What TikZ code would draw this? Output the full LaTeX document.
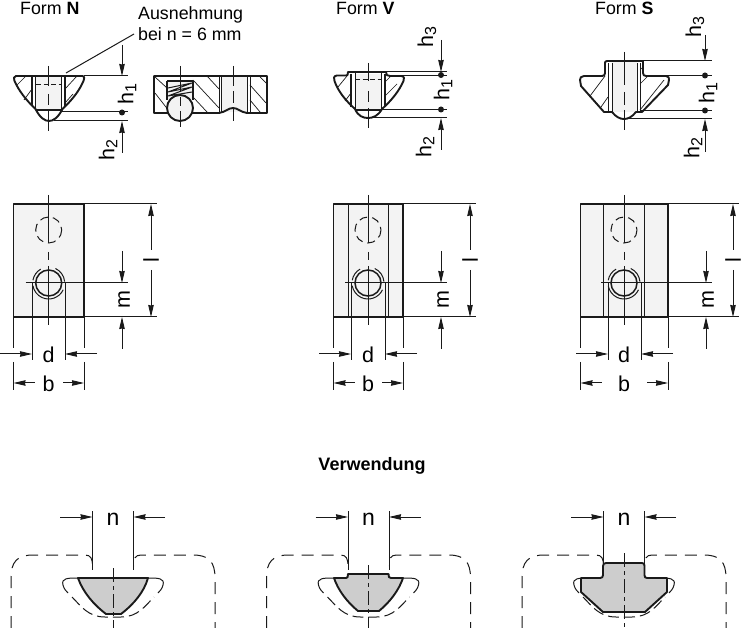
\documentclass[tikz,border=0pt]{standalone}
\usepackage{fontspec}
\setmainfont{Liberation Sans}
\usetikzlibrary{arrows.meta}
\definecolor{lightfill}{HTML}{F3F3F3}
\definecolor{cutgray}{HTML}{CDCDCD}
\definecolor{ink}{HTML}{1A1A1A}
\tikzset{
  thick line/.style={draw=ink,line width=1.9pt,line join=round},
  thin line/.style={draw=ink,line width=1pt},
  mid line/.style={draw=ink,line width=1.3pt},
  hatch/.style={draw=ink,line width=0.7pt},
  hidden/.style={draw=ink,line width=1pt,dash pattern=on 5pt off 2.5pt},
  rail/.style={draw=ink,line width=1pt,dash pattern=on 12pt off 8pt},
  dim/.style={draw=ink,line width=1pt,-{Stealth[length=12pt,width=5.5pt,inset=0.5pt]}},
  txt/.style={inner sep=0pt,font=\fontsize{17.8}{20}\selectfont},
  boldtxt/.style={inner sep=0pt,font=\fontsize{18}{20}\selectfont\bfseries},
  dimtxt/.style={inner sep=0pt,font=\fontsize{21.5}{22}\selectfont},
  ntxt/.style={inner sep=0pt,font=\fontsize{23}{24}\selectfont},
  htxt/.style={inner sep=0pt,rotate=90,font=\fontsize{21.5}{22}\selectfont},
  pt dot/.style={circle,fill=ink,inner sep=0pt,minimum size=6pt}
}
\newcommand{\hsub}[1]{h\raisebox{-3pt}{\fontsize{16}{16}\selectfont #1}}
% #1 cx #2 left #3 right #4 d-left #5 d-right #6 m-x
\newcommand{\topview}[6]{%
  \fill[lightfill] (#2,204) rectangle (#3,317);
  \draw[thin line] (#1,195) -- (#1,243) (#1,252) -- (#1,260) (#1,266) -- (#1,325);
  \draw[draw=ink,line width=1pt,dash pattern=on 8pt off 5pt] (#1,230) circle (13);
  \draw[draw=ink,line width=1.5pt] (#1,283) circle (13);
  \draw[thin line] (#1,283) ++(25:16) arc[start angle=25,end angle=170,radius=16];
  \draw[thin line] (#1,283) ++(190:16) arc[start angle=190,end angle=240,radius=16];
  \draw[thin line] (#1,283) ++(-65:16) arc[start angle=-65,end angle=-5,radius=16];
  \draw[thin line] (#1-23,283) -- (#6+6,283);
  \draw[thin line] (#4,283) -- (#4,360) (#5,283) -- (#5,360);
  \draw[thin line] (#2,317) -- (#2,348) (#2,362) -- (#2,390);
  \draw[thin line] (#3,317) -- (#3,348) (#3,362) -- (#3,390);
  \draw[thin line] (#6+6,317) -- (#3,317);
  \draw[thick line] (#2,204) rectangle (#3,317);
  \draw[dim] (#4-32,354) -- (#4,354);
  \draw[dim] (#5+32,354) -- (#5,354);
  \node[dimtxt] at (#1,355) {d};
  \draw[dim] (#2+21,383) -- (#2,383);
  \draw[dim] (#3-21,383) -- (#3,383);
  \node[dimtxt] at (#1,384) {b};
  \draw[dim] (#6,251) -- (#6,283);
  \draw[dim] (#6,349) -- (#6,317);
  \node[htxt] at (#6+2,300) {m};
}
% #1 right edge of body #2 x of dim
\newcommand{\ldim}[2]{%
  \draw[thin line] (#1,204) -- (#2+6,204) (#1,317) -- (#2+6,317);
  \draw[dim] (#2,250) -- (#2,204);
  \draw[dim] (#2,270) -- (#2,317);
  \node[htxt] at (#2,260) {l};
}
\newcommand{\rails}[1]{%
  \begin{scope}[xshift=#1 pt]
  \draw[rail] (-102,628) -- (-102,578) .. controls (-102,562) and (-96,555) .. (-80,555) -- (-28,555) .. controls (-22,555) and (-20.5,559) .. (-20.5,566);
  \draw[rail,dash phase=6pt] (102,628) -- (102,578) .. controls (102,562) and (96,555) .. (80,555) -- (28,555) .. controls (22,555) and (20.5,559) .. (20.5,566);
  \draw[thin line] (-20.5,511) -- (-20.5,570) (20.5,511) -- (20.5,570);
  \draw[thin line] (-35,578) .. controls (-45,578) and (-52,578) .. (-50,585) .. controls (-49,589) and (-47,591) .. (-45,593);
  \draw[thin line] (35,578) .. controls (45,578) and (52,578) .. (50,585) .. controls (49,589) and (47,591) .. (45,593);
  \draw[rail,dash pattern=on 11pt off 5pt] (-41,597) .. controls (-32,606) and (-25,617) .. (-8,617) -- (8,617) .. controls (25,617) and (32,606) .. (41,597);
  \draw[dim] (-53,517) -- (-20.5,517);
  \draw[dim] (52,517) -- (20.5,517);
  \node[ntxt] at (0,519) {n};
  \end{scope}
}
\begin{document}
\begin{tikzpicture}[x=1pt,y=-1pt]
\useasboundingbox (0,0) rectangle (750,628);
\fill[white] (0,0) rectangle (750,628);

% --- titles
\node[txt,anchor=base west] (formN) at (20,15) {Form \textbf{N}};
\node[txt,anchor=base west] (formV) at (336,15) {Form \textbf{V}};
\node[txt,anchor=base west] (formS) at (595,15) {Form \textbf{S}};
\node[txt,anchor=base west] (ausn) at (138,20) {Ausnehmung};
\node[txt,anchor=base west] (bei) at (138,41) {bei n = 6 mm};
\node[boldtxt] (verw) at (372,466) {Verwendung};

% --- Form N section
\fill[lightfill] (35.7,76) rectangle (61,110);
\draw[hatch] (17,85) -- (26,76) (24,100) -- (32,89) (65,89) -- (77,76) (65,103) -- (73,94);
\draw[mid line] (32,76) -- (32,106) (65,76) -- (65,106);
\draw[thin line] (35.7,76) -- (35.7,110) (61,76) -- (61,110);
\draw[hidden] (36,85) -- (61,85);
\draw[thick line] (16,76) -- (82,76) .. controls (85,76) and (84.5,79) .. (83.5,81) .. controls (79,91) and (73,99) .. (62.5,109)
  .. controls (58,118) and (53,121) .. (49,121) .. controls (45,121) and (40,118) .. (35.5,109)
  .. controls (26,100) and (19,91) .. (14.5,81) .. controls (13.5,79) and (13.5,76) .. (16,76) -- cycle;
\draw[mid line] (36,110) -- (62,110);
\draw[thin line] (48.7,66) -- (48.7,86) (48.7,94) -- (48.7,105) (48.7,110) -- (48.7,131);
\draw[thin line] (66,73) -- (134,34);
\draw[thin line] (84,76) -- (128,76);
\draw[thin line] (60,112) -- (128,112);
\draw[thin line] (54,121) -- (128,121);
\draw[dim] (122,45) -- (122,76);
\draw[dim] (122,153) -- (122,121);
\node[pt dot] (nd) at (122,112.5) {};
\node[htxt] at (127,94) {\hsub{1}};
\node[htxt] at (108,150) {\hsub{2}};

% --- Form N side view
\fill[lightfill] (221,76) rectangle (247,112);
\fill[lightfill] (167,81) rectangle (193,100);
\draw[hatch] (155,77) -- (167,88) (155,93) -- (169,111) (193,80) -- (219,108) (207,76) -- (219,89) (193,97) -- (207,112)
  (250,85) -- (266,103) (250,100) -- (260,112) (260,77) -- (267,84);
\draw[mid line] (167,81) -- (193,81) (167,81) -- (167,100) (193,81) -- (193,100);
\draw[thin line] (168,88) -- (192,83) -- (168,92) -- (192,87) -- (168,96) -- (192,92);
\draw[thin line] (219,76) -- (219,113) (221,76) -- (221,113) (247,76) -- (247,113) (250,76) -- (250,113);
\draw[thick line] (154,76) -- (267,76) -- (267,113) -- (247,113) .. controls (240,112) and (238,108) .. (233,108) .. controls (228,108) and (226,112) .. (219,113) -- (154,113) -- cycle;
\draw[draw=ink,line width=1.9pt,fill=lightfill] (180,108) circle (13);
\draw[thin line] (180,66) -- (180,91) (180,97) -- (180,106) (180,111) -- (180,127);
\draw[thin line] (233.3,66) -- (233.3,86) (233.3,91) -- (233.3,103) (233.3,107) -- (233.3,121);

% --- Form V section
\fill[lightfill] (355,74) rectangle (381,110);
\draw[hatch] (338,87) -- (347,76) (345,101) -- (351,93) (385,82) -- (391,76) (385,96) -- (397,84);
\draw[mid line] (351,74) -- (351,107) (385,74) -- (385,107);
\draw[thin line] (355,72) -- (355,110) (381,72) -- (381,110);
\draw[hidden] (355,80) -- (381,80);
\draw[thick line] (337,75.5) -- (346,75.5) .. controls (347.5,75.5) and (348,75) .. (348,72) -- (386,72) .. controls (386,75) and (387,76) .. (390,76) -- (401,76) .. controls (404.5,76) and (404.5,79) .. (403.5,81) .. controls (399,91) and (392,100) .. (382,109)
  .. controls (378,116) and (373,118) .. (368,118) .. controls (363,118) and (358,116) .. (355,109)
  .. controls (345,100) and (338,91) .. (334.5,81) .. controls (333.5,79) and (333.5,75.5) .. (337,75.5) -- cycle;
\draw[mid line] (355,110) -- (382,110);
\draw[thin line] (368.3,63) -- (368.3,81) (368.3,91) -- (368.3,102) (368.3,108) -- (368.3,128);
\draw[thin line] (386,72) -- (447,72);
\draw[thin line] (390,76) -- (447,76);
\draw[thin line] (381,110) -- (447,110);
\draw[thin line] (372,118) -- (447,118);
\draw[dim] (441,40) -- (441,72);
\draw[dim] (441,150) -- (441,118);
\node[pt dot] (vd1) at (441,75) {};
\node[pt dot] (vd2) at (441,109.5) {};
\node[htxt] at (427,37) {\hsub{3}};
\node[htxt] at (443,90) {\hsub{1}};
\node[htxt] at (425,147) {\hsub{2}};

% --- Form S section
\fill[lightfill] (612,61) rectangle (637,112);
\draw[hatch] (590,96) -- (605,76) (601,107) -- (608,97) (640,70) -- (643,67) (640,84) -- (648,76) (640,110) -- (664,80);
\draw[thin line] (608,63) -- (608,112) (612,63) -- (612,112) (637,63) -- (637,112) (640,63) -- (640,112);
\draw[thick line] (584,76) -- (602,76) .. controls (604,76) and (605,75) .. (605,73) -- (605,63) .. controls (605,62) and (605.5,61) .. (607,61) -- (643,61) -- (643,73) .. controls (643,75) and (644,76) .. (646,76) -- (666,76) .. controls (669,76) and (669,78) .. (669,80) -- (668,85) -- (642,112) -- (636,112)
  .. controls (632,117) and (628,119) .. (624,119) .. controls (620,119) and (616,117) .. (612,112)
  -- (604,112) -- (581,86) -- (580,80) .. controls (580,78) and (581,76) .. (584,76) -- cycle;
\draw[thin line] (624,52) -- (624,85) (624,92) -- (624,105) (624,110) -- (624,130);
\draw[thin line] (643,61) -- (712,61);
\draw[thin line] (646,76) -- (712,76);
\draw[thin line] (640,111) -- (712,111);
\draw[thin line] (628,119) -- (712,119);
\draw[dim] (705,35) -- (705,61);
\draw[dim] (705,152) -- (705,119);
\node[pt dot] (sd1) at (705,75.5) {};
\node[pt dot] (sd2) at (705,110.5) {};
\node[htxt] at (695,27) {\hsub{3}};
\node[htxt] at (708,93) {\hsub{1}};
\node[htxt] at (693,148) {\hsub{2}};

% --- top views
\topview{48.7}{13.5}{84}{32}{65}{122}
\ldim{84}{151}
\topview{368}{333.5}{403}{351}{385}{441}
\draw[mid line] (348.5,204) -- (348.5,317) (388.5,204) -- (388.5,317);
\ldim{403}{470}
\topview{624}{580.5}{668}{608}{641}{706}
\draw[mid line] (603.5,204) -- (603.5,317) (644.5,204) -- (644.5,317);
\ldim{668}{733}

% --- usage: rails
\rails{113}
\rails{368.5}
\rails{624}

% --- usage: nut 1
\draw[thick line,fill=cutgray] (78,578) -- (148,578) .. controls (144,592) and (134,604) .. (121,614) -- (106,614) .. controls (93,604) and (83,592) .. (78,578) -- cycle;
\draw[thin line,dash pattern=on 14pt off 4pt on 4pt off 4pt] (113,568) -- (113,628);

% --- usage: nut 2
\draw[thick line,fill=cutgray] (334,578) -- (346,578) .. controls (347.5,578) and (348,577) .. (348,574) -- (388.5,574) .. controls (388.5,577) and (389,578) .. (391,578) -- (403,578) .. controls (399,590) and (390,602) .. (379,611) -- (358,611) .. controls (347,602) and (338,590) .. (334,578) -- cycle;
\draw[thin line,dash pattern=on 14pt off 4pt on 4pt off 4pt] (368.5,565) -- (368.5,628);

% --- usage: nut 3
\draw[thick line,fill=cutgray] (581,578) -- (600,578) .. controls (602,578) and (603,577) .. (603,575) -- (603,566) .. controls (603,564) and (604,563) .. (606,563) -- (642,563) .. controls (644,563) and (644.5,564) .. (644.5,566) -- (644.5,575) .. controls (644.5,577) and (645,578) .. (647,578) -- (667,578) -- (667,592) -- (645,612) -- (603,612) -- (581,592) -- cycle;
\draw[thin line,dash pattern=on 14pt off 4pt on 4pt off 4pt] (624,553) -- (624,628);
\end{tikzpicture}
\end{document}
